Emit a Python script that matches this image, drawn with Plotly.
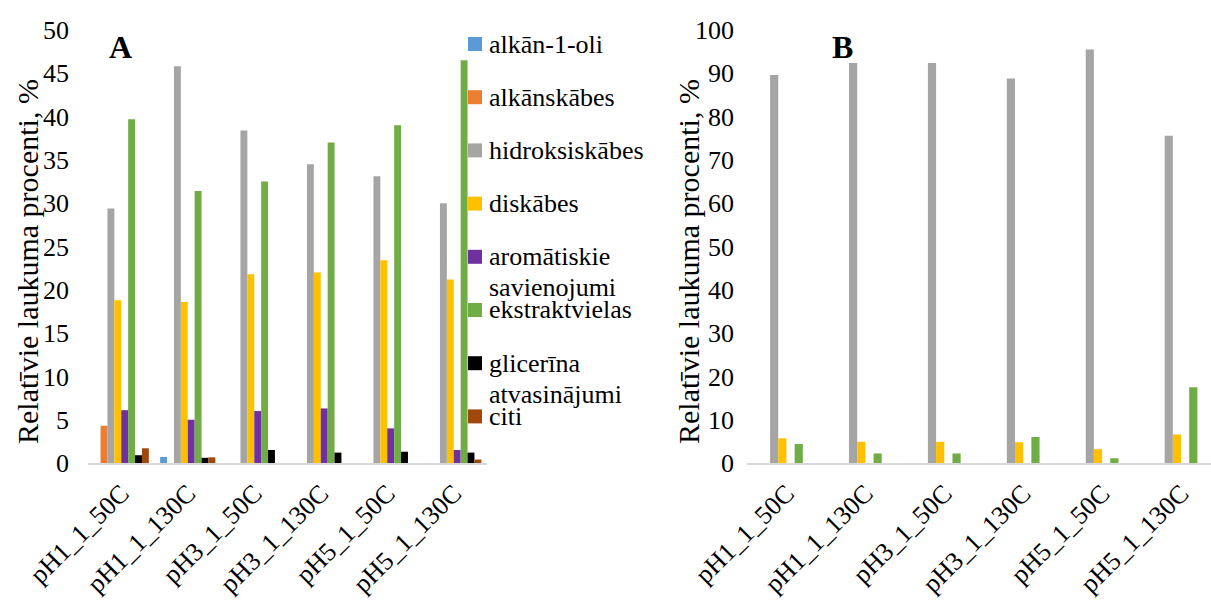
import plotly.graph_objects as go

categories = ["pH1_1_50C", "pH1_1_130C", "pH3_1_50C", "pH3_1_130C", "pH5_1_50C", "pH5_1_130C"]
series_names = ["alkān-1-oli", "alkānskābes", "hidroksiskābes", "diskābes",
                "aromātiskie savienojumi", "ekstraktvielas", "glicerīna atvasinājumi", "citi"]
legend_lines = [["alkān-1-oli"], ["alkānskābes"], ["hidroksiskābes"], ["diskābes"],
                ["aromātiskie", "savienojumi"], ["ekstraktvielas"], ["glicerīna", "atvasinājumi"], ["citi"]]
colors = ["#5B9BD5", "#ED7D31", "#A5A5A5", "#FFC000", "#7030A0", "#70AD47", "#000000", "#9E480E"]
y_title = "Relatīvie laukuma procenti, %"

# Chart A values (%)
a_alkanoli = [0, 0.7, 0, 0, 0, 0]
a_alkanskabes = [4.3, 0, 0, 0, 0, 0]
a_hidroksiskabes = [29.4, 45.8, 38.4, 34.5, 33.1, 30.0]
a_diskabes = [18.8, 18.6, 21.8, 22.0, 23.4, 21.2]
a_aromatiskie = [6.1, 5.0, 6.0, 6.3, 4.0, 1.5]
a_ekstraktvielas = [39.7, 31.4, 32.5, 37.0, 39.0, 46.5]
a_glicerina = [0.9, 0.6, 1.5, 1.2, 1.3, 1.2]
a_citi = [1.7, 0.65, 0, 0, 0, 0.4]

# Chart B values (%)
b_alkanoli = [0, 0, 0, 0, 0, 0]
b_alkanskabes = [0, 0, 0, 0, 0, 0]
b_hidroksiskabes = [89.6, 92.4, 92.4, 88.8, 95.5, 75.6]
b_diskabes = [5.7, 4.9, 4.9, 4.8, 3.2, 6.6]
b_aromatiskie = [0, 0, 0, 0, 0, 0]
b_ekstraktvielas = [4.4, 2.2, 2.2, 6.0, 1.1, 17.5]
b_glicerina = [0, 0, 0, 0, 0, 0]
b_citi = [0, 0, 0, 0, 0, 0]

a_values = [a_alkanoli, a_alkanskabes, a_hidroksiskabes, a_diskabes,
            a_aromatiskie, a_ekstraktvielas, a_glicerina, a_citi]
b_values = [b_alkanoli, b_alkanskabes, b_hidroksiskabes, b_diskabes,
            b_aromatiskie, b_ekstraktvielas, b_glicerina, b_citi]

W, H = 1211, 602
FONT = "'Liberation Serif', 'Times New Roman', serif"

def px_x(x):
    return x / W

def px_y(y):
    return (H - y) / H

fig = go.Figure()
for name, col, vals in zip(series_names, colors, a_values):
    fig.add_trace(go.Bar(x=categories, y=vals, name=name, marker_color=col,
                         marker_line_width=0, xaxis="x", yaxis="y",
                         offsetgroup=name, showlegend=False))
for name, col, vals in zip(series_names, colors, b_values):
    fig.add_trace(go.Bar(x=categories, y=vals, name=name, marker_color=col,
                         marker_line_width=0, xaxis="x2", yaxis="y2",
                         offsetgroup=name, showlegend=False))

ydom = [px_y(463), px_y(30)]
axis_common = dict(showgrid=False, zeroline=False, ticks="", automargin=False,
                   tickfont=dict(family=FONT, size=26, color="black"))

fig.update_layout(
    width=W, height=H,
    margin=dict(l=0, r=0, t=0, b=0, autoexpand=False),
    paper_bgcolor="white", plot_bgcolor="white",
    barmode="group", bargap=0.17, bargroupgap=0,
    font=dict(family=FONT, color="black"),
    xaxis=dict(domain=[px_x(88), px_x(487)], anchor="y", type="category",
               range=[-0.5, 5.5], tickangle=-45, showline=True, ticklabelstandoff=3,
               linecolor="#D9D9D9", linewidth=1.5, **axis_common),
    yaxis=dict(domain=ydom, anchor="x", range=[0, 50], dtick=5,
               showline=False, ticklabelstandoff=18, **axis_common),
    xaxis2=dict(domain=[px_x(747), 1.0], anchor="y2", type="category",
                range=[-0.5, 5.38], tickangle=-45, showline=True, ticklabelstandoff=3,
                linecolor="#D9D9D9", linewidth=1.5, **axis_common),
    yaxis2=dict(domain=ydom, anchor="x2", range=[0, 100], dtick=10,
                showline=False, ticklabelstandoff=12, **axis_common),
)

# Axis titles
for xc in (27, 688):
    fig.add_annotation(text=y_title, x=px_x(xc), y=px_y(262), xref="paper", yref="paper",
                       xanchor="center", yanchor="middle", textangle=-90, showarrow=False,
                       font=dict(family=FONT, size=30, color="black"))

# Panel letters
fig.add_annotation(text="<b>A</b>", x=px_x(120), y=px_y(47), xref="paper", yref="paper",
                   xanchor="center", yanchor="middle",
                   showarrow=False, font=dict(family=FONT, size=32, color="black"))
fig.add_annotation(text="<b>B</b>", x=px_x(843), y=px_y(47), xref="paper", yref="paper",
                   xanchor="center", yanchor="middle",
                   showarrow=False, font=dict(family=FONT, size=32, color="black"))

# Legend (drawn manually to reproduce the even item spacing)
legend_y0 = 44
legend_step = 53.2
line_gap = 31
for i, (lines, col) in enumerate(zip(legend_lines, colors)):
    yc = legend_y0 + i * legend_step
    fig.add_shape(type="rect", xref="paper", yref="paper",
                  x0=px_x(468), x1=px_x(482), y0=px_y(yc + 7), y1=px_y(yc - 7),
                  fillcolor=col, line_width=0)
    for j, t in enumerate(lines):
        fig.add_annotation(text=t, x=px_x(487), y=px_y(yc + j * line_gap),
                           xref="paper", yref="paper", xanchor="left", yanchor="middle",
                           showarrow=False, font=dict(family=FONT, size=26, color="black"))

fig.write_html("out.html")
